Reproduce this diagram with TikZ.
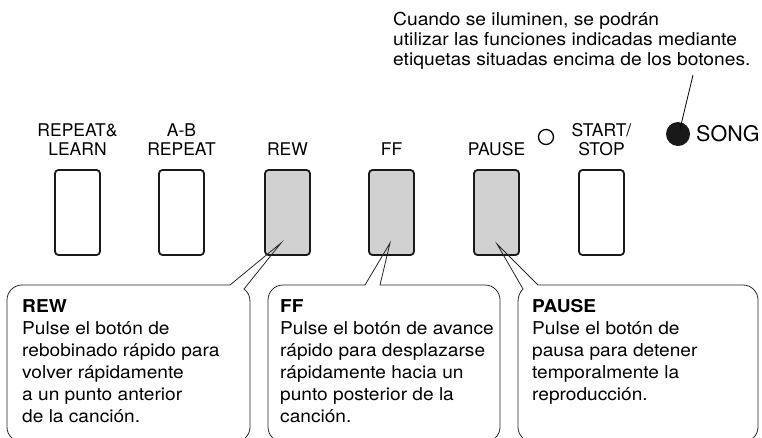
\documentclass[tikz,border=0pt]{standalone}
\usepackage{fontspec}
\setmainfont{TeX Gyre Heros}
\newfontfamily\notefont[FakeStretch=1.08]{TeX Gyre Heros}
\usetikzlibrary{positioning}

\begin{document}
\begin{tikzpicture}[
  x=1pt, y=-1pt,
  btn/.style={draw=black!90, line width=1.8pt, rounded corners=3.5pt,
              minimum width=45pt, minimum height=85pt, inner sep=0pt},
  tag/.style={inner sep=0pt, align=center, font=\fontsize{17.5}{19}\selectfont},
  callout/.style={draw=black!85, line width=0.8pt},
  body/.style={inner sep=0pt, align=left, anchor=base west,
               font=\notefont\fontsize{17.7}{22}\selectfont},
  led/.style={circle, inner sep=0pt},
]
  \useasboundingbox (0,0) rectangle (762,437);
  \clip (0,0) rectangle (762,437);

  % panel buttons with their labels
  \foreach \name/\x/\shade/\txt in {rl/77.5/white/{REPEAT\&\\LEARN},
      ab/181.5/white/{A-B\\REPEAT}, rew/287.5/black!18/REW, ff/391.5/black!18/FF,
      pause/496.5/black!18/PAUSE, start/601.5/white/{START/\\STOP}} {
    \node[btn, fill=\shade] (\name) at (\x,212.5) {};
    \node[tag, above=13pt of \name] (\name-tag) {\txt};
  }

  % lamps
  \node[led, draw, line width=1.3pt, minimum size=15pt] (start-led) at (546,137) {};
  \node[led, fill=black!90, minimum size=24pt] (song-led) at (678,134) {};
  \node[anchor=base west, inner sep=0pt, font=\fontsize{21.5}{24}\selectfont]
    (song-tag) at (696,141) {SONG};

  % note on the lamps (base = last line)
  \node[body, font=\notefont\fontsize{17.8}{20}\selectfont] (note) at (393,65)
    {Cuando se iluminen, se podrán\\utilizar las funciones indicadas mediante\\etiquetas situadas encima de los botones.};
  \coordinate (note-end) at (693,75);
  \draw[line width=0.8pt] (note-end) -- ([shift={(2,-5)}]song-led.center);

  % callouts
  \coordinate (rew-tip) at ([shift={(-6.5,30.5)}]rew.center);
  \coordinate (ff-tip) at ([shift={(-1.5,30.5)}]ff.center);
  \coordinate (pause-tip) at ([shift={(0.5,31.5)}]pause.center);

  \draw[callout] (130,442) [rounded corners=15pt] -- (7,442) -- (7,285) -- (100,285)
    [sharp corners] -- (230,285) -- (rew-tip) -- (244,289)
    .. controls (248,292) and (250,296) .. (250,302) -- (250,360)
    [rounded corners=15pt] -- (250,400) -- (250,442) -- cycle;
  \draw[callout] (384,442) [rounded corners=15pt] -- (268,442) -- (268,285) -- (320,285)
    [sharp corners] -- (365,285) -- (ff-tip) -- (380,285) -- (420,285)
    [rounded corners=15pt] -- (460,285) -- (500,285) -- (500,442) -- cycle;
  \draw[callout] (640,442) [rounded corners=15pt] -- (518,442) -- (518,380)
    [sharp corners] -- (518,302) .. controls (518,296) and (520,292) .. (523,289)
    -- (pause-tip) -- (538,285) -- (600,285)
    [rounded corners=15pt] -- (680,285) -- (758,285) -- (758,442) -- cycle;

  \node[body] (rew-txt) at (22,422) {\textbf{REW}\\Pulse el botón de\\rebobinado rápido para\\volver rápidamente\\a un punto anterior\\de la canción.};
  \node[body] (ff-txt) at (280,422) {\textbf{FF}\\Pulse el botón de avance\\rápido para desplazarse\\rápidamente hacia un\\punto posterior de la\\canción.};
  \node[body] (pause-txt) at (532,400) {\textbf{PAUSE}\\Pulse el botón de\\pausa para detener\\temporalmente la\\reproducción.};
\end{tikzpicture}
\end{document}
